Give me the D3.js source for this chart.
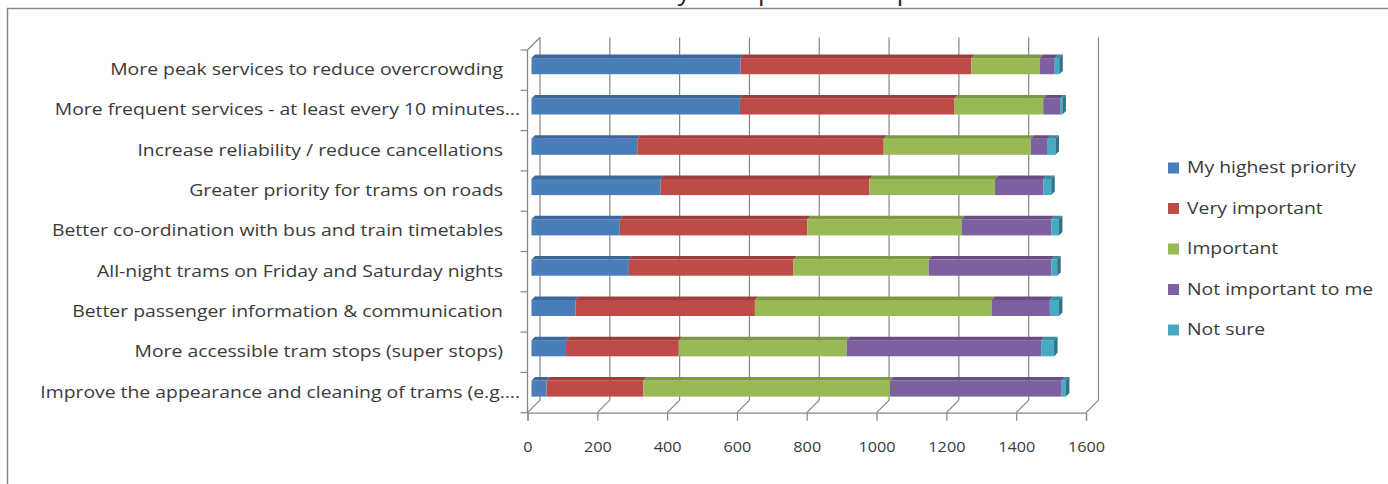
<!DOCTYPE html>
<html>
<head>
<meta charset="utf-8">
<script src="https://cdn.jsdelivr.net/npm/d3@7"></script>
<style>
  html, body { margin: 0; padding: 0; background: #fff; }
  svg { display: block; }
  text { font-family: "Open Sans", sans-serif; fill: #3a3a3a; }
</style>
</head>
<body>
<svg id="chart" width="1388" height="484"></svg>
<script>
// Survey answers per proposed improvement (number of respondents)
const categories = [
  "More peak services to reduce overcrowding",
  "More frequent services - at least every 10 minutes...",
  "Increase reliability / reduce cancellations",
  "Greater priority for trams on roads",
  "Better co-ordination with bus and train timetables",
  "All-night trams on Friday and Saturday nights",
  "Better passenger information & communication",
  "More accessible tram stops (super stops)",
  "Improve the appearance and cleaning of trams (e.g...."
];
const seriesNames = ["My highest priority", "Very important", "Important", "Not important to me", "Not sure"];
const highestPriority = [599, 597, 303, 370, 253, 279, 126, 99, 43];
const veryImportant   = [661, 615, 706, 598, 537, 471, 514, 323, 277];
const important       = [196, 254, 421, 360, 442, 388, 678, 481, 707];
const notImportant    = [43, 48, 49, 138, 257, 351, 167, 557, 492];
const notSure         = [13, 7, 22, 23, 22, 17, 26, 37, 12];
const xTicks = [0, 200, 400, 600, 800, 1000, 1200, 1400, 1600];
const colors = ["#4a7ebb", "#be4b48", "#98b954", "#7d60a0", "#46aac5"];
const chartTitle = "Survey of improvement priorities";

const seriesValues = [highestPriority, veryImportant, important, notImportant, notSure];
const rows = categories.map((c, i) => {
  const r = { category: c };
  seriesNames.forEach((s, k) => { r[s] = seriesValues[k][i]; });
  return r;
});
const stacked = d3.stack().keys(seriesNames)(rows);

// text in this chart is set a little wide
const wide = 1.25;

const svg = d3.select("#chart");

// frame of the chart area
svg.append("rect")
  .attr("x", 7.5).attr("y", 8.5).attr("width", 1400).attr("height", 500)
  .attr("fill", "none").attr("stroke", "#8a8a8a").attr("stroke-width", 1.5);

// title sits above the frame
svg.append("text")
  .attr("transform", `translate(807,0) scale(1.07,1)`)
  .attr("text-anchor", "middle")
  .style("font-size", "24px")
  .style("fill", "#222")
  .text(chartTitle);

const x = d3.scaleLinear().domain([0, 1600]).range([527.5, 1086]);
const y = d3.scaleBand().domain(categories).range([50, 412.7]);

const wall = 12.5;     // depth of the back wall
const barShift = 4;    // bars sit a little behind the front plane
const barDepth = 3.5;
const barH = y.bandwidth() * 0.4;
const gridColor = "#868686";

const g = svg.append("g");

// back-wall gridlines and their run across the floor
xTicks.forEach(t => {
  g.append("line")
    .attr("x1", x(t) + wall).attr("x2", x(t) + wall)
    .attr("y1", 50 - wall).attr("y2", 412.7 - wall)
    .attr("stroke", gridColor).attr("stroke-width", 1.2);
  g.append("line")
    .attr("x1", x(t) + wall).attr("y1", 412.7 - wall)
    .attr("x2", x(t)).attr("y2", 412.7)
    .attr("stroke", gridColor).attr("stroke-width", 1.2);
});

// left axis with depth cue at the top
g.append("line")
  .attr("x1", x(0)).attr("x2", x(0)).attr("y1", 50).attr("y2", 412.7)
  .attr("stroke", gridColor).attr("stroke-width", 1.3);
g.append("line")
  .attr("x1", x(0)).attr("y1", 50).attr("x2", x(0) + wall).attr("y2", 50 - wall)
  .attr("stroke", gridColor).attr("stroke-width", 1.2);
// category boundary ticks
const bounds = categories.map(c => y(c)).concat([412.7]);
bounds.forEach(b => {
  g.append("line")
    .attr("x1", x(0) - 7).attr("x2", x(0)).attr("y1", b).attr("y2", b)
    .attr("stroke", gridColor).attr("stroke-width", 1.2);
});

// bottom axis
const xAxis = d3.axisBottom(x).tickValues(xTicks).tickSize(8).tickPadding(21).tickFormat(d3.format("d"));
const xg = svg.append("g").attr("transform", "translate(0,412.7)").call(xAxis);
xg.select(".domain").attr("stroke", gridColor).attr("stroke-width", 1.3);
xg.selectAll(".tick line").attr("stroke", gridColor).attr("stroke-width", 1.2);
xg.selectAll(".tick text")
  .style("font-size", "15px").style("font-family", "'Open Sans', sans-serif").attr("fill", "#3a3a3a")
  .each(function () {
    const t = d3.select(this);
    const ty = +t.attr("y");
    t.attr("y", 0).attr("transform", `translate(0,${ty}) scale(1.08,1)`);
  });

// category labels
const yAxis = d3.axisLeft(y).tickSize(0).tickPadding(7.5);
const yg = svg.append("g").attr("transform", `translate(${x(0)},0)`).call(yAxis);
yg.select(".domain").remove();
yg.selectAll(".tick text")
  .style("font-size", "15.5px").style("font-family", "'Open Sans', sans-serif").attr("fill", "#3a3a3a")
  .each(function (d) {
    const t = d3.select(this);
    const x0 = +t.attr("x") + (d.endsWith("...") ? 0 : -17);
    t.attr("x", 0).attr("transform", `translate(${x0},0) scale(${wide},1)`);
  });

// 3D stacked bars
const bars = svg.append("g");
stacked.forEach((layer, k) => {
  const col = colors[k];
  const topCol = d3.color(col).darker(0.55).formatHex();
  layer.forEach((seg, i) => {
    const cat = categories[i];
    const yc = y(cat) + y.bandwidth() / 2 - barShift;
    const yt = yc - barH / 2;
    const xa = x(seg[0]) + barShift, xb = x(seg[1]) + barShift;
    bars.append("rect")
      .attr("x", xa).attr("y", yt).attr("width", Math.max(0, xb - xa)).attr("height", barH)
      .attr("fill", col);
    bars.append("polygon")
      .attr("points", [[xa, yt], [xb, yt], [xb + barDepth, yt - barDepth], [xa + barDepth, yt - barDepth]].map(p => p.join(",")).join(" "))
      .attr("fill", topCol);
  });
});
// end caps on the last segment
const lastLayer = stacked[stacked.length - 1];
lastLayer.forEach((seg, i) => {
  const yc = y(categories[i]) + y.bandwidth() / 2 - barShift;
  const yt = yc - barH / 2, yb = yc + barH / 2;
  const xb = x(seg[1]) + barShift;
  bars.append("polygon")
    .attr("points", [[xb, yt], [xb + barDepth, yt - barDepth], [xb + barDepth, yb - barDepth], [xb, yb]].map(p => p.join(",")).join(" "))
    .attr("fill", d3.color(colors[colors.length - 1]).darker(1.1).formatHex());
});

// legend
const legend = svg.append("g").attr("transform", "translate(1168,168)");
seriesNames.forEach((s, k) => {
  const row = legend.append("g").attr("transform", `translate(0,${k * 40.5})`);
  row.append("rect").attr("x", 0).attr("y", -5.5).attr("width", 11).attr("height", 11).attr("fill", colors[k]);
  row.append("text").attr("dy", "0.35em")
    .attr("transform", `translate(19,0) scale(${wide},1)`)
    .style("font-size", "15.5px").text(s);
});
</script>
</body>
</html>
